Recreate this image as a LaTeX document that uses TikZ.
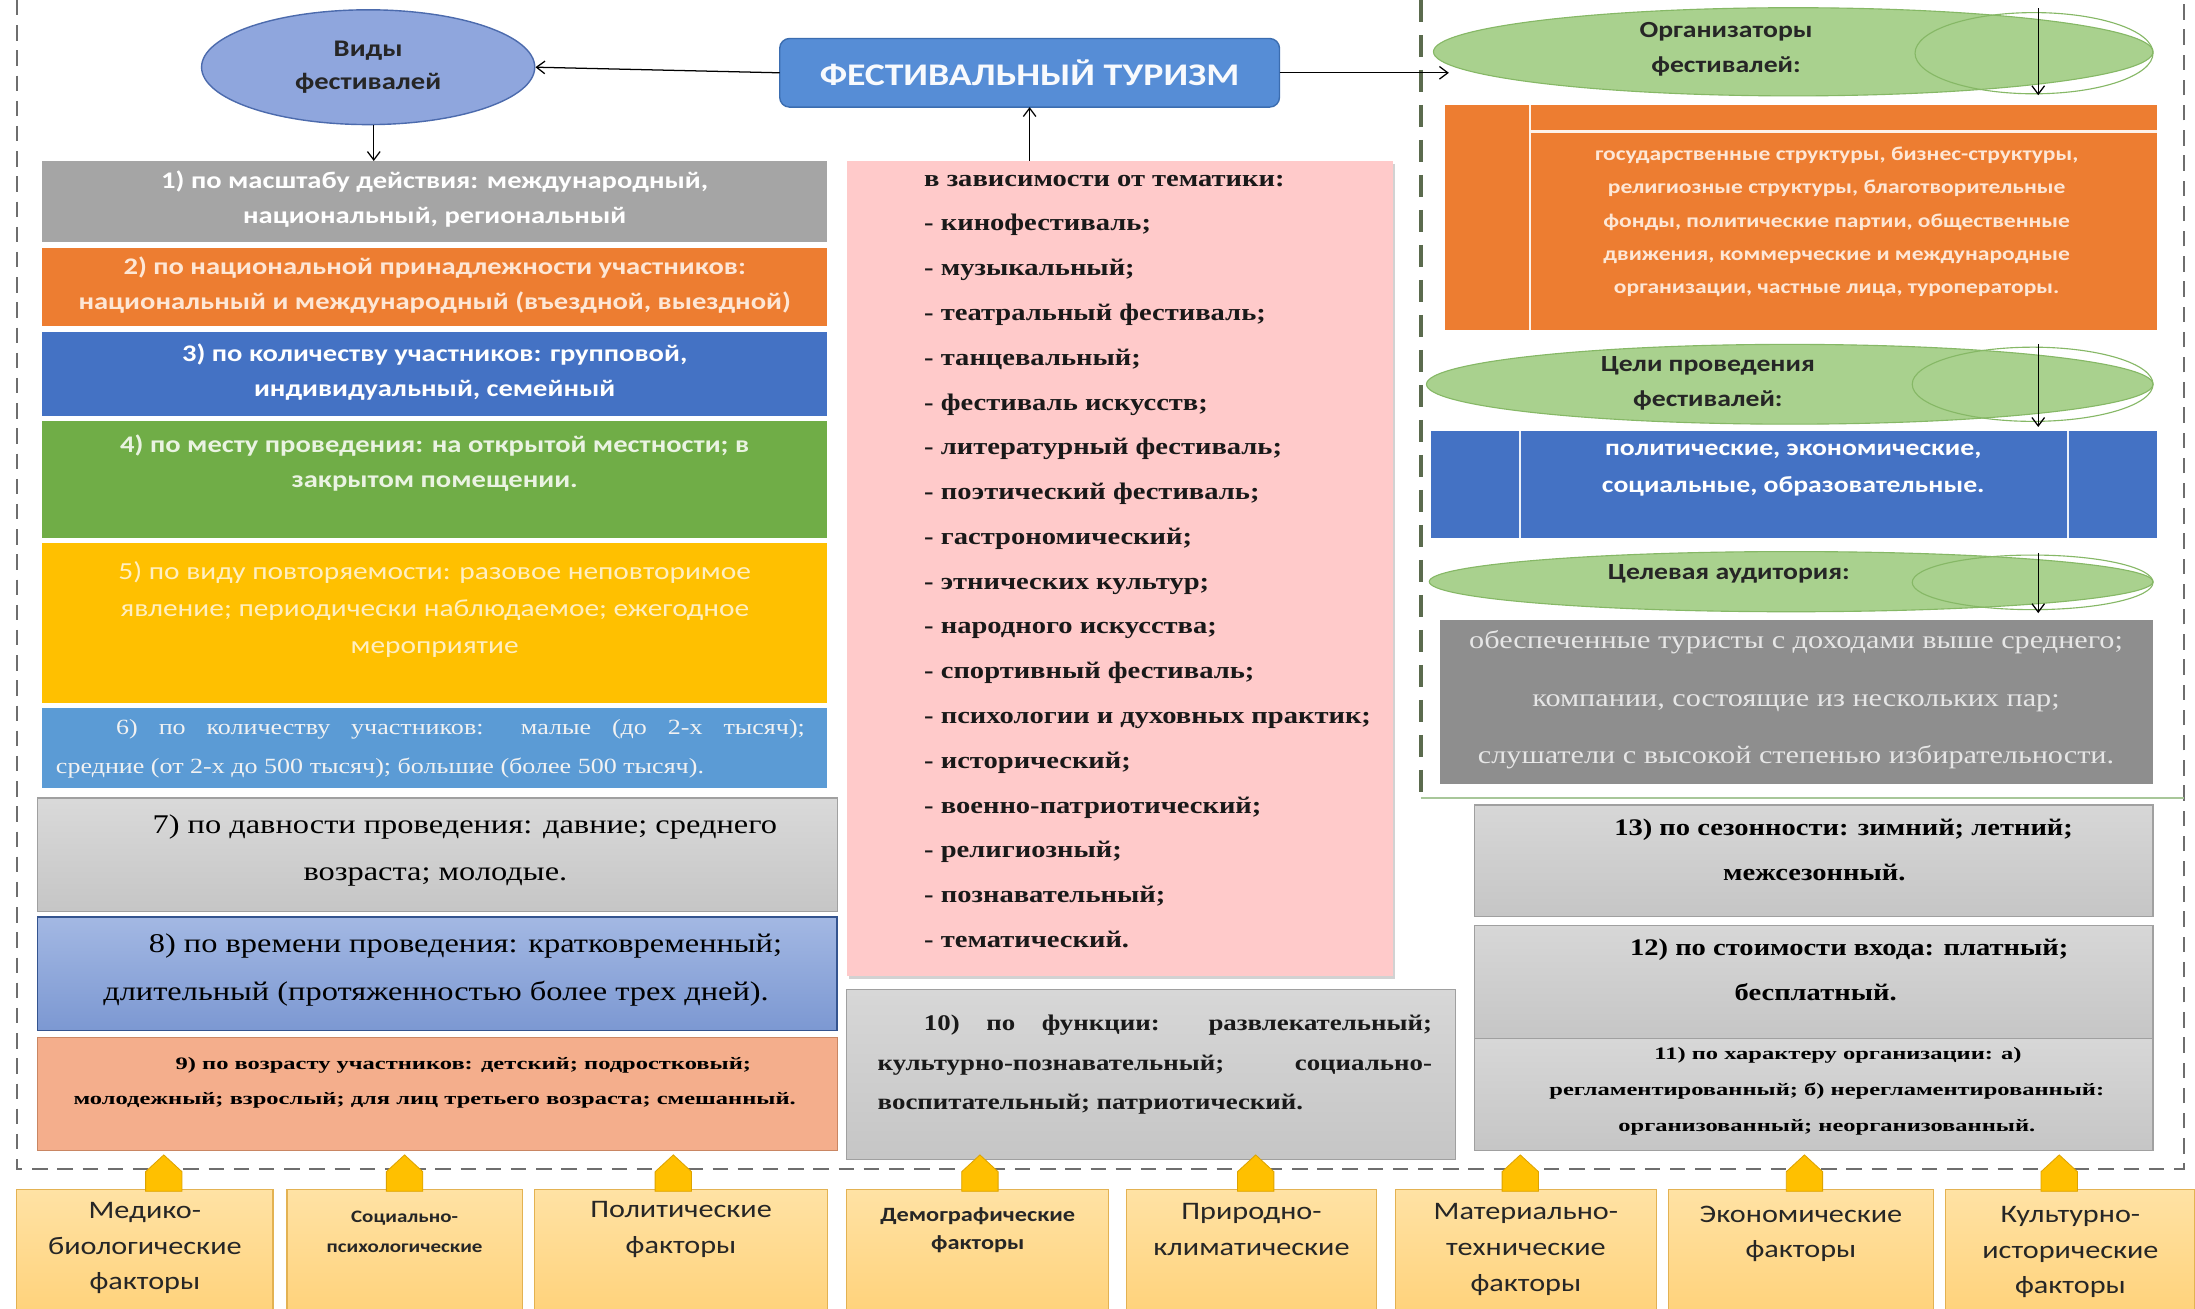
\documentclass[tikz,border=0pt]{standalone}
\usepackage{fontspec}
\setmainfont{Liberation Serif}
\newfontfamily\fsans{Carlito}[FakeStretch=1.2]
\newfontfamily\fser{Liberation Serif}[FakeStretch=1.2]
\newfontfamily\fserw{Liberation Serif}[FakeStretch=1.4]
\usetikzlibrary{shapes.geometric,arrows.meta,shadows}
\definecolor{vidF}{HTML}{8FA6DD}
\definecolor{vidD}{HTML}{4C6BAD}
\definecolor{ftF}{HTML}{568DD6}
\definecolor{ftD}{HTML}{3B6DB0}
\definecolor{cGray}{HTML}{A5A5A5}
\definecolor{cOr}{HTML}{ED7D31}
\definecolor{cBl}{HTML}{4472C4}
\definecolor{cGr}{HTML}{70AD47}
\definecolor{cGo}{HTML}{FFC000}
\definecolor{cLb}{HTML}{5B9BD5}
\definecolor{cLg}{HTML}{D0D0D0}
\definecolor{cLgD}{HTML}{A0A0A0}
\definecolor{c8T}{HTML}{A3B8E3}
\definecolor{c8B}{HTML}{7C98D2}
\definecolor{c8D}{HTML}{34548F}
\definecolor{c9}{HTML}{F4AE8C}
\definecolor{c9D}{HTML}{C98663}
\definecolor{cPk}{HTML}{FFCACA}
\definecolor{gEl}{HTML}{A9D18E}
\definecolor{gElD}{HTML}{86B866}
\definecolor{cAud}{HTML}{8E8E8E}
\definecolor{fT}{HTML}{FFE2A4}
\definecolor{fB}{HTML}{FFD27A}
\definecolor{fD}{HTML}{E3B252}
\definecolor{yA}{HTML}{FFC000}
\definecolor{yAD}{HTML}{DDA300}
\definecolor{tCream}{HTML}{FDE7D6}
\definecolor{tPale}{HTML}{FFEFC2}
\definecolor{tGr}{HTML}{EAF3E2}
\definecolor{tAud}{HTML}{E6E6E6}
\definecolor{oBord}{HTML}{6E6E6E}
\definecolor{rBord}{HTML}{5B6B4E}
\definecolor{rLine}{HTML}{A8C79A}
\begin{document}
\begin{tikzpicture}[x=1pt,y=-1pt,
  sbox/.style={rectangle,inner sep=0pt,outer sep=0pt},
  conn/.style={-{Straight Barb[length=6pt,width=9pt]},line width=0.9pt,black},
  lt/.style={font=\fsans\bfseries\fontsize{17}{25}\selectfont,align=center,inner sep=0pt},
  gt/.style={font=\fsans\bfseries\fontsize{16.5}{25}\selectfont,align=center,inner sep=0pt,text=black!85},
  sert/.style={font=\fser\fontsize{19.3}{34}\selectfont,align=center,inner sep=0pt,text=black},
  serb/.style={font=\fser\bfseries\fontsize{17}{32}\selectfont,inner sep=0pt,text=black!90},
  smallb/.style={font=\fserw\bfseries\fontsize{12.5}{25}\selectfont,align=center,inner sep=0pt,text=black},
  ftx/.style={font=\fsans\fontsize{18}{25.5}\selectfont,align=center,inner sep=0pt,text=black!85},
  gell/.style={ellipse,draw=gElD,fill=gEl,line width=0.8pt,inner sep=0pt},
  iell/.style={ellipse,draw=gElD,line width=0.8pt,inner sep=0pt},
  fbox/.style={sbox,draw=fD,line width=0.8pt,top color=fT,bottom color=fB,minimum height=90pt},
  gbox/.style={sbox,draw=cLgD,line width=0.8pt,top color=cLg!85!white,bottom color=cLg!95!black,minimum width=485pt},
  yarr/.style={fill=yA,draw=yAD,line width=0.6pt}
]
\useasboundingbox[fill=white] (0,0) rectangle (1568,935);
\clip (0,0) rectangle (1568,935);

% ---------- frame lines ----------
\draw[oBord,line width=1.6pt,dash pattern=on 11pt off 7pt] (12,0) -- (12,835) -- (1560,835) -- (1560,0);
\draw[rLine,line width=1pt] (1015,570) -- (1560,570);
\draw[rBord,line width=2.4pt,dash pattern=on 16pt off 9pt] (1015,0) -- (1015,570);

% ---------- top ----------
\node[ellipse,draw=vidD,fill=vidF,line width=1pt,minimum width=238pt,minimum height=82pt,inner sep=0pt,
      font=\fsans\bfseries\fontsize{17}{24}\selectfont,align=center,text=black!85] (vid) at (263,48) {Виды\\фестивалей};
\node[sbox,rounded corners=7pt,draw=ftD,fill=ftF,line width=1pt,minimum width=357pt,minimum height=49pt,
      font=\fsans\bfseries\fontsize{22.5}{25}\selectfont,text=white!96!ftF] (ft) at (735.5,52) {ФЕСТИВАЛЬНЫЙ ТУРИЗМ};

% ---------- left column ----------
\node[sbox,fill=cGray,minimum width=561pt,minimum height=58pt] (b1) at (310.5,144) {};
\node[lt,text=white] (t1) at (310.5,142.5) {1) по масштабу действия: международный,\\национальный, региональный};
\node[sbox,fill=cOr,minimum width=561pt,minimum height=56pt] (b2) at (310.5,205) {};
\node[lt,text=tCream] (t2) at (310.5,203.5) {2) по национальной принадлежности участников:\\национальный и международный (въездной, выездной)};
\node[sbox,fill=cBl,minimum width=561pt,minimum height=60pt] (b3) at (310.5,267) {};
\node[lt,text=white] (t3) at (310.5,265.5) {3) по количеству участников: групповой,\\индивидуальный, семейный};
\node[sbox,fill=cGr,minimum width=561pt,minimum height=83pt] (b4) at (310.5,342.5) {};
\node[lt,text=tGr] (t4) at (310.5,330.5) {4) по месту проведения: на открытой местности; в\\закрытом помещении.};
\node[sbox,fill=cGo,minimum width=561pt,minimum height=114pt] (b5) at (310.5,445) {};
\node[lt,text=tPale,font=\fsans\fontsize{17.5}{26.5}\selectfont] (t5) at (310.5,435.5) {5) по виду повторяемости: разовое неповторимое\\явление; периодически наблюдаемое; ежегодное\\мероприятие};
\node[sbox,fill=cLb,minimum width=561pt,minimum height=57pt] (b6) at (310.5,534.5) {};
\node[font=\fser\fontsize{15.5}{28}\selectfont,text=white!95!black,align=justify,text width=535pt,inner sep=0pt] (t6) at (307.5,535)
  {\hspace*{43pt}6) по количеству участников: малые (до 2-х тысяч);\linebreak средние (от 2-х до 500 тысяч); большие (более 500 тысяч).};

\node[sbox,draw=cLgD,line width=0.8pt,top color=cLg!80!white,bottom color=cLg!95!black,minimum width=571pt,minimum height=81pt] (b7) at (312.5,610.5) {};
\node[sert] (t7) at (311,607.5) {\hspace*{42pt}7) по давности проведения: давние; среднего\\возраста; молодые.};
\node[sbox,draw=c8D,line width=1pt,top color=c8T,bottom color=c8B,minimum width=571pt,minimum height=81pt] (b8) at (312.5,695.5) {};
\node[sert] (t8) at (311.5,693) {\hspace*{42pt}8) по времени проведения: кратковременный;\\длительный (протяженностью более трех дней).};
\node[sbox,draw=c9D,line width=0.8pt,fill=c9,minimum width=571pt,minimum height=81pt] (b9) at (312.5,781.5) {};
\node[smallb] (t9) at (310.5,773.5) {\hspace*{41pt}9) по возрасту участников: детский; подростковый;\\молодежный; взрослый; для лиц третьего возраста; смешанный.};

% ---------- middle ----------
\node[sbox,fill=cPk,minimum width=390pt,minimum height=582pt,drop shadow={opacity=0.35,shadow xshift=1.5pt,shadow yshift=-2pt}] (pink) at (800,406) {};
\node[serb,align=left,anchor=west] (plist) at (660,401) {в зависимости от тематики:\\
- кинофестиваль;\\
- музыкальный;\\
- театральный фестиваль;\\
- танцевальный;\\
- фестиваль искусств;\\
- литературный фестиваль;\\
- поэтический фестиваль;\\
- гастрономический;\\
- этнических культур;\\
- народного искусства;\\
- спортивный фестиваль;\\
- психологии и духовных практик;\\
- исторический;\\
- военно-патриотический;\\
- религиозный;\\
- познавательный;\\
- тематический.};
\node[sbox,draw=cLgD,line width=0.8pt,top color=cLg!85!white,bottom color=cLg!95!black,minimum width=435pt,minimum height=121pt] (b10) at (822.5,767.5) {};
\node[font=\fser\bfseries\fontsize{16}{28.5}\selectfont,text=black!90,align=justify,text width=396pt,inner sep=0pt] (t10) at (825,760.5)
  {\hspace*{33pt}10) по функции: развлекательный;\linebreak культурно-познавательный; социально-\linebreak воспитательный; патриотический.};

% ---------- right panel ----------
\node[gell,minimum width=514pt,minimum height=63pt] (org) at (1281,37) {};
\node[iell,minimum width=170pt,minimum height=58pt] (orgi) at (1453,38) {};
\node[gt] (orgt) at (1233,35) {Организаторы\\фестивалей:};
\node[sbox,fill=cOr,minimum width=509pt,minimum height=161pt] (orgbox) at (1286.5,155.5) {};
\draw[white!90!cOr,line width=1.6pt] (orgbox.north west) ++(61,0) coordinate (ov1) -- (ov1 |- orgbox.south);
\draw[white!90!cOr,line width=1.6pt] (ov1) ++(0,19) coordinate (oh1) -- (oh1 -| orgbox.east);
\node[font=\fsans\bfseries\fontsize{14}{23.75}\selectfont,align=center,inner sep=0pt,text=tCream] (orgtxt) at (1312,158.5)
  {государственные структуры, бизнес-структуры,\\религиозные структуры, благотворительные\\фонды, политические партии, общественные\\движения, коммерческие и международные\\организации, частные лица, туроператоры.};

\node[gell,minimum width=519pt,minimum height=57pt] (goal) at (1278.5,274.5) {};
\node[iell,minimum width=172pt,minimum height=53pt] (goali) at (1452,274.5) {};
\node[gt] (goalt) at (1220,273.5) {Цели проведения\\фестивалей:};
\node[sbox,fill=cBl,minimum width=519pt,minimum height=76pt] (goalbox) at (1281.5,346) {};
\draw[white!90!cBl,line width=1.4pt] (goalbox.north west) ++(64,0) coordinate (gv1) -- (gv1 |- goalbox.south);
\draw[white!90!cBl,line width=1.4pt] (goalbox.north east) ++(-64,0) coordinate (gv2) -- (gv2 |- goalbox.south);
\node[font=\fsans\bfseries\fontsize{16.5}{26}\selectfont,align=center,inner sep=0pt,text=white] (goaltxt) at (1281,336)
  {политические, экономические,\\социальные, образовательные.};

\node[gell,minimum width=517pt,minimum height=43pt] (aud) at (1279.5,415.5) {};
\node[iell,minimum width=172pt,minimum height=39pt] (audi) at (1452,416) {};
\node[gt] (audt) at (1235,410) {Целевая аудитория:};
\node[sbox,fill=cAud,minimum width=509pt,minimum height=117pt] (audbox) at (1283.5,501.5) {};
\node[font=\fser\fontsize{18}{41}\selectfont,align=center,inner sep=0pt,text=tAud] (audtxt) at (1283,500)
  {обеспеченные туристы с доходами выше среднего;\\компании, состоящие из нескольких пар;\\слушатели с высокой степенью избирательности.};

% arrows inside ellipses
\coordinate (oa1) at (1456,6);   \coordinate (oa2) at (1456,68);
\coordinate (ga1) at (1456,246); \coordinate (ga2) at (1456,305);
\coordinate (aa1) at (1456,395); \coordinate (aa2) at (1456,438);
\draw[conn] (oa1) -- (oa2);
\draw[conn] (ga1) -- (ga2);
\draw[conn] (aa1) -- (aa2);

% right lower boxes
\node[gbox,minimum height=80pt] (b13) at (1295.5,615) {};
\node[font=\fser\bfseries\fontsize{17}{32}\selectfont,align=center,inner sep=0pt] (t13) at (1296,607) {\hspace*{42pt}13) по сезонности: зимний; летний;\\межсезонный.};
\node[gbox,minimum height=81pt] (b12) at (1295.5,701.5) {};
\node[font=\fser\bfseries\fontsize{17}{32}\selectfont,align=center,inner sep=0pt] (t12) at (1297,693) {\hspace*{48pt}12) по стоимости входа: платный;\\бесплатный.};
\node[gbox,minimum height=80pt] (b11) at (1295.5,782) {};
\node[smallb,font=\fserw\bfseries\fontsize{12.5}{25.5}\selectfont] (t11) at (1305,779.5) {\hspace*{16pt}11) по характеру организации: а)\\регламентированный; б) нерегламентированный:\\организованный; неорганизованный.};

% ---------- connectors ----------
\coordinate (orgL) at (1035,50);
\draw[conn] (ft.west) -- (vid.east);
\draw[conn] (ft.east) -- (ft.east -| orgL);
\draw[conn] (pink.north -| ft.south) -- (ft.south);
\draw[conn] (vid.south -| 267,0) -- (b1.north -| 267,0);

% ---------- factors ----------
\node[fbox,minimum width=183pt] (f1) at (103.5,895) {};
\node[ftx] (f1t) at (103.5,891.5) {Медико-\\биологические\\факторы};
\node[fbox,minimum width=168pt] (f2) at (289,895) {};
\node[ftx,font=\fsans\bfseries\fontsize{12.5}{22}\selectfont] (f2t) at (289,880) {Социально-\\психологические};
\node[fbox,minimum width=209pt] (f3) at (486.5,895) {};
\node[ftx] (f3t) at (486.5,878.5) {Политические\\факторы};
\node[fbox,minimum width=187pt] (f4) at (698.5,895) {};
\node[ftx,font=\fsans\bfseries\fontsize{14.5}{20}\selectfont] (f4t) at (698.5,879) {Демографические\\факторы};
\node[fbox,minimum width=178pt] (f5) at (894,895) {};
\node[ftx] (f5t) at (894,878.5) {Природно-\\климатические};
\node[fbox,minimum width=186pt] (f6) at (1090,895) {};
\node[ftx] (f6t) at (1090,892.5) {Материально-\\технические\\факторы};
\node[fbox,minimum width=189pt] (f7) at (1286.5,895) {};
\node[ftx] (f7t) at (1286.5,881.5) {Экономические\\факторы};
\node[fbox,minimum width=178pt] (f8) at (1479,895) {};
\node[ftx] (f8t) at (1479,894.5) {Культурно-\\исторические\\факторы};

\foreach \ax in {117,289,481,700,897,1086,1289,1471}{
  \filldraw[yarr] ({\ax-13},851) -- ({\ax+13},851) -- ({\ax+13},837) -- (\ax,825) -- ({\ax-13},837) -- cycle;
}
\end{tikzpicture}
\end{document}
